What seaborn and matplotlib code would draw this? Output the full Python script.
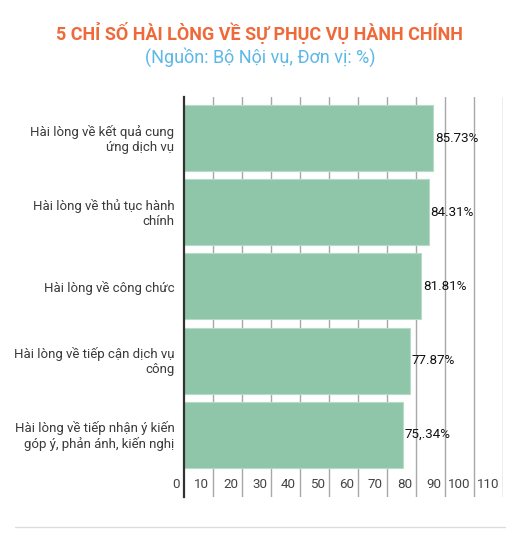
import pandas as pd
import seaborn as sns
import matplotlib.pyplot as plt
from matplotlib.lines import Line2D

# data
categories = ['Hài lòng về kết quả cung\nứng dịch vụ',
              'Hài lòng về thủ tục hành\nchính',
              'Hài lòng về công chức',
              'Hài lòng về tiếp cận dịch vụ\ncông',
              'Hài lòng về tiếp nhận ý kiến\ngóp ý, phản ánh, kiến nghị']
values = [85.73, 84.31, 81.81, 77.87, 75.34]
value_labels = ['85.73%', '84.31%', '81.81%', '77.87%', '75,.34%']
xticks = [0, 10, 20, 30, 40, 50, 60, 70, 80, 90, 100, 110]

df = pd.DataFrame({'cat': categories, 'val': values})

sns.set_style('white')
plt.rcParams['font.family'] = ['Roboto', 'DejaVu Sans']

fig = plt.figure(figsize=(5.23, 5.38), dpi=100)
ax = fig.add_axes([0.352, 0.0762, 0.610, 0.7435])

# grid lines behind the bars
for t in xticks[1:]:
    ax.axvline(t, color='#a8a8a8', lw=1, zorder=0)

sns.barplot(data=df, x='val', y='cat', color='#8fc5a9', saturation=1,
            width=0.89, edgecolor='#b5dcc6', linewidth=0.8, ax=ax, zorder=2)

ax.set_xlim(0, 110)
ax.set_ylim(4.84, -0.554)
ax.set_xlabel('')
ax.set_ylabel('')
ax.set_xticks([])
ax.set_yticks([])

for s in ['top', 'right', 'bottom']:
    ax.spines[s].set_visible(False)
ax.spines['left'].set_color('#333333')
ax.spines['left'].set_linewidth(1.6)
ax.spines['left'].set_zorder(5)

# category labels, each line right aligned on its own
line_gap = 11  # points between wrapped lines
for i, cat in enumerate(categories):
    lines = cat.split('\n')
    n = len(lines)
    for j, line in enumerate(lines):
        dy = ((n - 1) / 2 - j) * line_gap - 1
        ax.annotate(line, xy=(0, i), xycoords=('axes fraction', 'data'),
                    xytext=(-7, dy), textcoords='offset points',
                    ha='right', va='center', fontsize=9.5, color='#3a3a3a',
                    annotation_clip=False)

# value labels at the bar ends
for i, (v, txt) in enumerate(zip(values, value_labels)):
    ax.annotate(txt, xy=(v, i), xytext=(1.5, 0), textcoords='offset points',
                ha='left', va='center', fontsize=9.6, color='#111111', zorder=6)

# x tick labels sit inside the plot, left of each grid line
for t in xticks:
    ax.annotate(str(t), xy=(t, 0), xycoords=('data', 'axes fraction'),
                xytext=(-3, 4), textcoords='offset points',
                ha='right', va='bottom', fontsize=9.6, color='#444444',
                annotation_clip=False)

fig.text(0.497, 0.938, '5 CHỈ SỐ HÀI LÒNG VỀ SỰ PHỤC VỤ HÀNH CHÍNH',
         ha='center', va='center', fontsize=13.0, fontweight='bold', color='#ee6a3a')
fig.text(0.497, 0.894, '(Nguồn: Bộ Nội vụ, Đơn vị: %)',
         ha='center', va='center', fontsize=13.0, color='#5cb8e6')

fig.add_artist(Line2D([15 / 523, 505 / 523], [1 - 527 / 538] * 2,
                      transform=fig.transFigure, color='#dddddd', lw=1))

fig.savefig('out.png', dpi=100)
